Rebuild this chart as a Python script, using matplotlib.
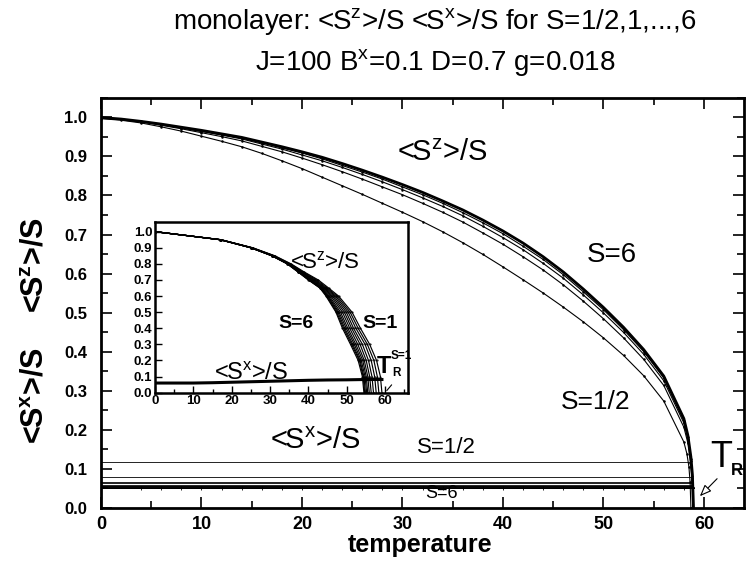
import matplotlib
matplotlib.use('Agg')
from matplotlib import pyplot as plt
from matplotlib.ticker import MultipleLocator

plt.rcParams['font.family'] = ['Liberation Sans', 'DejaVu Sans']
plt.rcParams['mathtext.fontset'] = 'custom'
plt.rcParams['mathtext.rm'] = 'Liberation Sans'
plt.rcParams['mathtext.bf'] = 'Liberation Sans:bold'

spins = ["1/2", "1", "3/2", "2", "5/2", "3", "7/2", "4", "9/2", "5", "11/2", "6"]

# main panel: <Sz>/S read on a shared temperature grid (0..58 step 2) plus a tail down to Tc
t_main = [0, 2, 4, 6, 8, 10, 12, 14, 16, 18, 20, 22, 24, 26, 28,
          30, 32, 34, 36, 38, 40, 42, 44, 46, 48, 50, 52, 54, 56, 58]
sz_half = [0.997, 0.993, 0.986, 0.976, 0.965, 0.952, 0.939, 0.925, 0.908, 0.889, 0.869, 0.847, 0.825, 0.803, 0.780,
           0.757, 0.733, 0.707, 0.679, 0.649, 0.617, 0.584, 0.550, 0.514, 0.476, 0.435, 0.390, 0.338, 0.273, 0.168]
sz_one = [0.999, 0.995, 0.989, 0.980, 0.971, 0.961, 0.951, 0.940, 0.926, 0.912, 0.896, 0.879, 0.861, 0.842, 0.822,
          0.802, 0.780, 0.757, 0.732, 0.704, 0.675, 0.643, 0.609, 0.571, 0.529, 0.484, 0.435, 0.380, 0.313, 0.206]
sz_threehalf = [0.999, 0.995, 0.989, 0.982, 0.973, 0.964, 0.955, 0.945, 0.932, 0.919, 0.904, 0.889, 0.872, 0.854, 0.835,
                0.815, 0.794, 0.772, 0.748, 0.721, 0.692, 0.661, 0.626, 0.588, 0.545, 0.499, 0.449, 0.393, 0.325, 0.217]
sz_two = [1.000, 0.996, 0.990, 0.982, 0.974, 0.966, 0.956, 0.947, 0.935, 0.922, 0.909, 0.894, 0.877, 0.860, 0.842,
          0.822, 0.802, 0.780, 0.756, 0.730, 0.702, 0.670, 0.636, 0.597, 0.553, 0.507, 0.456, 0.400, 0.332, 0.223]
# S=5/2 ... 6 cannot be told apart in the picture: one thick band
sz_bundle = [1.000, 0.996, 0.990, 0.983, 0.975, 0.967, 0.958, 0.949, 0.937, 0.925, 0.912, 0.898, 0.882, 0.865, 0.847,
             0.828, 0.808, 0.786, 0.763, 0.737, 0.709, 0.678, 0.643, 0.604, 0.560, 0.513, 0.462, 0.405, 0.337, 0.228]

t_tail_half, sz_tail_half = [58.3, 58.5, 58.62, 58.7], [0.138, 0.105, 0.065, 0.0]
t_tail_one, sz_tail_one = [58.4, 58.65, 58.8, 58.88], [0.165, 0.115, 0.070, 0.0]
t_tail_threehalf, sz_tail_threehalf = [58.4, 58.7, 58.83, 58.92], [0.175, 0.120, 0.075, 0.0]
t_tail_two, sz_tail_two = [58.4, 58.7, 58.85, 58.94], [0.180, 0.125, 0.080, 0.0]
t_tail_bundle, sz_tail_bundle = [58.4, 58.7, 58.85, 58.96], [0.185, 0.130, 0.085, 0.0]

sz_main = {"1/2": (sz_half, t_tail_half, sz_tail_half),
           "1": (sz_one, t_tail_one, sz_tail_one),
           "3/2": (sz_threehalf, t_tail_threehalf, sz_tail_threehalf),
           "2": (sz_two, t_tail_two, sz_tail_two),
           "5/2..6": (sz_bundle, t_tail_bundle, sz_tail_bundle)}

# <Sx>/S stays flat up to Tc
sx_main = [0.118, 0.079, 0.066, 0.062, 0.058, 0.056, 0.054, 0.053, 0.052, 0.051, 0.050, 0.049]
tc_main = [58.7, 58.85, 58.9, 58.92, 58.94, 58.94, 58.95, 58.95, 58.96, 58.96, 58.96, 58.96]

# inset: temperature at which each <Sz>/S curve passes the levels below
inset_spins = ["1", "3/2", "2", "5/2", "3", "7/2", "4", "9/2", "5", "11/2", "6"]
sz_levels = [1.0, 0.95, 0.9, 0.85, 0.8, 0.75, 0.7, 0.65, 0.6, 0.5, 0.4, 0.3, 0.2, 0.1, 0.0]
t_inset = {
    "1":    [0, 17.3, 25.5, 31.3, 35.5, 38.9, 42.6, 45.3, 47.9, 51.4, 53.6, 56.0, 57.8, 58.8, 59.2],
    "3/2":  [0, 17.2, 25.4, 31.1, 35.3, 38.6, 42.2, 44.9, 47.5, 50.9, 53.0, 55.4, 57.1, 58.0, 58.4],
    "2":    [0, 17.2, 25.3, 31.0, 35.1, 38.3, 41.8, 44.6, 47.1, 50.4, 52.4, 54.8, 56.4, 57.3, 57.7],
    "5/2":  [0, 17.1, 25.2, 30.9, 35.0, 38.1, 41.5, 44.3, 46.7, 49.9, 51.8, 54.1, 55.7, 56.6, 57.0],
    "3":    [0, 17.1, 25.2, 30.8, 34.9, 37.9, 41.2, 44.0, 46.3, 49.4, 51.3, 53.5, 55.1, 56.0, 56.4],
    "7/2":  [0, 17.0, 25.1, 30.7, 34.8, 37.7, 40.9, 43.7, 45.9, 48.9, 50.8, 52.9, 54.6, 55.5, 55.9],
    "4":    [0, 17.0, 25.1, 30.6, 34.7, 37.6, 40.6, 43.5, 45.5, 48.4, 50.3, 52.4, 54.2, 55.1, 55.5],
    "9/2":  [0, 17.0, 25.0, 30.6, 34.6, 37.5, 40.4, 43.3, 45.2, 48.0, 49.9, 52.0, 53.8, 54.8, 55.2],
    "5":    [0, 17.0, 25.0, 30.5, 34.6, 37.4, 40.2, 43.2, 45.0, 47.7, 49.5, 51.6, 53.5, 54.5, 54.9],
    "11/2": [0, 17.0, 25.0, 30.5, 34.5, 37.3, 40.1, 43.1, 44.8, 47.4, 49.2, 51.3, 53.3, 54.3, 54.7],
    "6":    [0, 17.0, 25.0, 30.5, 34.5, 37.3, 40.0, 43.0, 44.6, 47.2, 48.9, 51.0, 53.0, 54.1, 54.5],
}
t_sx_inset = [0, 10, 15, 20, 25, 30, 35, 40, 45, 50, 55, 59.2]
sx_inset = [0.060, 0.060, 0.062, 0.065, 0.068, 0.071, 0.074, 0.077, 0.079, 0.080, 0.082, 0.082]

fig = plt.figure(figsize=(7.47, 5.72), dpi=100)
ax = fig.add_axes([0.1352, 0.1127, 0.861, 0.716])

for name, (vals, tt, vt) in sz_main.items():
    bundle = name == "5/2..6"
    ax.plot(t_main + tt, vals + vt, color='black', lw=2.0 if bundle else 0.8,
            marker=None if bundle else '.', ms=1.6)

for i, s in enumerate(spins):
    ax.plot([0, tc_main[i]], [sx_main[i], sx_main[i]], color='black', lw=0.6)
# dotted texture on the low <Sx>/S band
ax.plot(t_main[2:], [sx_main[-1]] * len(t_main[2:]), ls='none', marker='|', ms=3, mew=0.6, color='black')

ax.set_xlim(0, 64)
ax.set_ylim(0, 1.05)
ax.xaxis.set_major_locator(MultipleLocator(10))
ax.xaxis.set_minor_locator(MultipleLocator(5))
ax.set_yticks([round(0.1 * k, 1) for k in range(11)])
ax.set_yticklabels(['%.1f' % (0.1 * k) for k in range(11)])
ax.yaxis.set_minor_locator(MultipleLocator(0.05))
ax.tick_params(which='both', direction='in', top=True, right=True, width=1.2)
ax.tick_params(which='major', length=8)
ax.tick_params(which='minor', length=5)
ax.tick_params(axis='y', which='major', pad=10, labelsize=12)
ax.tick_params(axis='x', which='major', pad=6, labelsize=13)
for lab in ax.get_xticklabels() + ax.get_yticklabels():
    lab.set_fontweight('bold')
for sp in ax.spines.values():
    sp.set_linewidth(2.0)

ax.text(34.0, 0.91, r'<S$^\mathregular{z}$>/S', fontsize=21, ha='center', va='center')
ax.text(50.8, 0.648, 'S=6', fontsize=20, ha='center', va='center')
ax.text(49.2, 0.271, 'S=1/2', fontsize=19, ha='center', va='center')
ax.text(21.3, 0.171, r'<S$^\mathregular{x}$>/S', fontsize=21, ha='center', va='center')
ax.text(34.4, 0.153, 'S=1/2', fontsize=16, ha='center', va='center')
ax.text(33.9, 0.035, 'S=6', fontsize=13, ha='center', va='center')
ax.text(61.7, 0.127, 'T', fontsize=26, ha='center', va='center')
ax.text(63.3, 0.094, 'R', fontsize=12, fontweight='bold', ha='center', va='center')
ax.annotate('', xy=(59.4, 0.024), xytext=(61.5, 0.079),
            arrowprops=dict(arrowstyle='-|>,head_length=0.7,head_width=0.28',
                            fc='white', ec='black', lw=0.8))

# inset
ins = fig.add_axes([155 / 747, 1 - 392.7 / 572, 253 / 747, 170.7 / 572])
for s in inset_spins:
    ins.plot(t_inset[s], sz_levels, color='black', lw=0.85, marker='.', ms=1.0)
ins.plot(t_sx_inset, sx_inset, color='black', lw=2.2)
ins.set_xlim(0, 66)
ins.set_ylim(0, 1.06)
ins.xaxis.set_major_locator(MultipleLocator(10))
ins.xaxis.set_minor_locator(MultipleLocator(5))
ins.set_yticks([round(0.1 * k, 1) for k in range(11)])
ins.set_yticklabels(['%.1f' % (0.1 * k) for k in range(11)])
ins.tick_params(which='both', direction='in', width=1.0)
ins.tick_params(which='major', length=5, pad=2, labelsize=9.5)
ins.tick_params(which='minor', length=3)
for lab in ins.get_xticklabels() + ins.get_yticklabels():
    lab.set_fontweight('bold')
for sp in ins.spines.values():
    sp.set_linewidth(1.8)

ins.text(44.3, 0.81, r'<S$^\mathregular{z}$>/S', fontsize=16, ha='center', va='center')
ins.text(36.8, 0.43, 'S=6', fontsize=14, fontweight='bold', ha='center', va='center')
ins.text(58.6, 0.43, 'S=1', fontsize=14, fontweight='bold', ha='center', va='center')
ins.text(25.0, 0.12, r'<S$^\mathregular{x}$>/S', fontsize=17, ha='center', va='center')
ins.text(59.6, 0.16, 'T', fontsize=17, fontweight='bold', ha='center', va='center')
ins.text(64.2, 0.225, 'S=1', fontsize=8.5, fontweight='bold', ha='center', va='center')
ins.text(63.0, 0.125, 'R', fontsize=8.5, fontweight='bold', ha='center', va='center')
ins.annotate('', xy=(60.0, 0.0), xytext=(62.2, 0.062),
             arrowprops=dict(arrowstyle='-', lw=0.8, color='black'),
             annotation_clip=False)

fig.text(0.047, 0.537, r'<S$^\mathbf{z}$>/S', fontsize=22, fontweight='bold',
         rotation=90, ha='center', va='center')
fig.text(0.047, 0.309, r'<S$^\mathbf{x}$>/S', fontsize=22, fontweight='bold',
         rotation=90, ha='center', va='center')
fig.text(0.562, 0.047, 'temperature', fontsize=18, fontweight='bold', ha='center', va='center')
fig.text(0.582, 0.962, r'monolayer: <S$^\mathregular{z}$>/S <S$^\mathregular{x}$>/S for S=1/2,1,...,6',
         fontsize=20, ha='center', va='center')
fig.text(0.582, 0.89, r'J=100 B$^\mathregular{x}$=0.1 D=0.7 g=0.018',
         fontsize=20, ha='center', va='center')

fig.savefig('out.png', dpi=100)
